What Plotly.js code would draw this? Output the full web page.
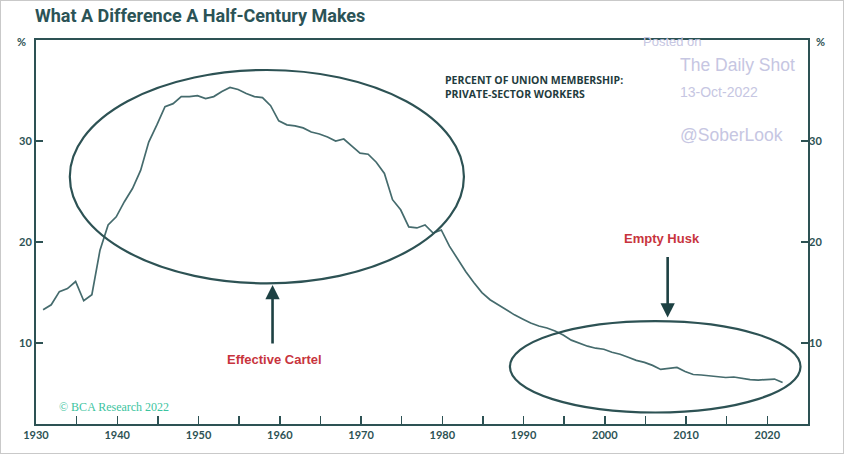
<!DOCTYPE html>
<html>
<head>
<meta charset="utf-8">
<script src="https://cdn.plot.ly/plotly-3.0.1.min.js"></script>
<style>
  html, body { margin: 0; padding: 0; background: #fff; }
  #wrap { position: relative; width: 846px; height: 457px; }
  #chart { width: 846px; height: 457px; }
  #frame { position: absolute; left: 0; top: 0; width: 842px; height: 452px; border: 1px solid #c9c9c9; pointer-events: none; }
</style>
</head>
<body>
<div id="wrap"><div id="chart"></div><div id="frame"></div></div>
<script>
// Private-sector union membership, % (annual)
const years = [
  1930,1931,1932,1933,1934,1935,1936,1937,1938,1939,
  1940,1941,1942,1943,1944,1945,1946,1947,1948,1949,
  1950,1951,1952,1953,1954,1955,1956,1957,1958,1959,
  1960,1961,1962,1963,1964,1965,1966,1967,1968,1969,
  1970,1971,1972,1973,1974,1975,1976,1977,1978,1979,
  1980,1981,1982,1983,1984,1985,1986,1987,1988,1989,
  1990,1991,1992,1993,1994,1995,1996,1997,1998,1999,
  2000,2001,2002,2003,2004,2005,2006,2007,2008,2009,
  2010,2011,2012,2013,2014,2015,2016,2017,2018,2019,
  2020,2021
];
const unionPct = [
  13.3,13.8,15.1,15.4,16.1,14.2,14.8,19.2,21.7,22.5,
  24.0,25.3,27.1,29.9,31.6,33.4,33.7,34.4,34.4,34.5,
  34.2,34.4,34.9,35.3,35.1,34.7,34.4,34.3,33.5,32.0,
  31.6,31.5,31.3,30.9,30.7,30.4,30.0,30.2,29.5,28.8,
  28.7,27.9,26.8,24.2,23.2,21.5,21.4,21.7,20.9,21.2,
  19.6,18.3,17.1,16.0,15.0,14.3,13.8,13.3,12.8,12.4,
  12.0,11.7,11.5,11.2,10.8,10.3,10.0,9.7,9.5,9.4,
  9.1,8.9,8.6,8.3,8.1,7.8,7.4,7.5,7.6,7.2,
  6.9,6.85,6.75,6.65,6.6,6.65,6.5,6.4,6.35,6.4,
  6.45,6.1
];
const xTickYears = [1930,1935,1940,1945,1950,1955,1960,1965,1970,1975,1980,1985,1990,1995,2000,2005,2010,2015,2020];
const yTicks = [10, 20, 30];

// annual observations are plotted at the end of each year
const xDates = years.map(y => y + '-11-16');
const tickDates = xTickYears.map(y => y + '-01-01');
const tickText = xTickYears.map(y => (y % 10 === 0 ? String(y) : ''));

const axisCol = '#2d5254';
const lineCol = '#456b6d';
const redCol = '#c8343d';
const wmCol = '#c6c6e2';
const yRange = [2, 40];
const xRange = ['1930-01-01', '2025-01-01'];

const tickFont = {family: 'Lato, "Open Sans", sans-serif', size: 11, color: axisCol, weight: 'bold'};

const traces = [
  {x: xDates, y: unionPct, type: 'scatter', mode: 'lines',
   line: {color: lineCol, width: 1.7}, hoverinfo: 'x+y', showlegend: false},
  {x: xDates, y: unionPct, type: 'scatter', mode: 'lines', yaxis: 'y2',
   line: {color: 'rgba(0,0,0,0)', width: 0}, hoverinfo: 'skip', showlegend: false}
];

function note(x, y, text, font, xa, ya, extra) {
  return Object.assign({xref: 'paper', yref: 'paper', x: x, y: y, text: text, showarrow: false,
    xanchor: xa || 'center', yanchor: ya || 'middle', font: font}, extra || {});
}

const layout = {
  width: 846, height: 457,
  margin: {l: 36, r: 38, t: 40, b: 33},
  paper_bgcolor: '#ffffff', plot_bgcolor: '#ffffff',
  title: {text: 'What A Difference A Half-Century Makes', xref: 'container', yref: 'container',
          x: 35/846, xanchor: 'left', y: 1 - 16/457, yanchor: 'middle',
          font: {family: '"Liberation Sans Narrow", "Roboto", sans-serif', size: 18, color: '#2b5356', weight: 'bold'}},
  xaxis: {type: 'date', range: xRange, showgrid: false, zeroline: false,
          showline: true, linecolor: axisCol, linewidth: 2, mirror: true,
          ticks: 'inside', ticklen: 8, tickwidth: 1.5, tickcolor: axisCol,
          tickmode: 'array', tickvals: tickDates, ticktext: tickText, tickfont: tickFont},
  yaxis: {range: yRange, showgrid: false, zeroline: false,
          showline: true, linecolor: axisCol, linewidth: 2, mirror: true,
          ticks: 'inside', ticklen: 7, tickwidth: 1.5, tickcolor: axisCol,
          tickmode: 'array', tickvals: yTicks, ticktext: yTicks.map(String), tickfont: tickFont},
  yaxis2: {range: yRange, overlaying: 'y', side: 'right', showgrid: false, zeroline: false,
           showline: false, ticks: 'inside', ticklen: 7, tickwidth: 1.5, tickcolor: axisCol,
           tickmode: 'array', tickvals: yTicks, ticktext: yTicks.map(String), tickfont: tickFont},
  shapes: [
    {type: 'circle', xref: 'paper', yref: 'paper', x0: 0.0438, x1: 0.5543, y0: 0.3664, y1: 0.9219,
     line: {color: axisCol, width: 2.2}},
    {type: 'circle', xref: 'paper', yref: 'paper', x0: 0.6139, x1: 0.9903, y0: 0.030, y1: 0.268,
     line: {color: axisCol, width: 2.2}}
  ],
  annotations: [
    note(-0.0184, 0.9948, '%', {family: 'Lato, sans-serif', size: 11, color: axisCol, weight: 'bold'}),
    note(1.0166, 0.9948, '%', {family: 'Lato, sans-serif', size: 11, color: axisCol, weight: 'bold'}),
    note(0.527, 0.8776, 'PERCENT OF UNION MEMBERSHIP:<br>PRIVATE-SECTOR WORKERS',
         {family: '"Open Sans", sans-serif', size: 10.5, color: '#1f3c3e', weight: 'bold'}, 'left', 'middle', {align: 'left'}),
    // arrows
    {xref: 'paper', yref: 'paper', x: 0.3064, y: 0.362, ax: 0, ay: 60, text: '', showarrow: true,
     arrowhead: 2, arrowsize: 1.1, arrowwidth: 2.6, arrowcolor: '#1d4143'},
    {xref: 'paper', yref: 'paper', x: 0.8182, y: 0.2773, ax: 0, ay: -62, text: '', showarrow: true,
     arrowhead: 2, arrowsize: 1.1, arrowwidth: 2.6, arrowcolor: '#1d4143'},
    note(0.3088, 0.1667, 'Effective Cartel', {family: '"Liberation Sans", Arial, sans-serif', size: 13, color: redCol, weight: 'bold'}),
    note(0.8109, 0.4818, 'Empty Husk', {family: '"Liberation Sans", Arial, sans-serif', size: 13, color: redCol, weight: 'bold'}),
    // source
    note(0.027, 0.0443, '© BCA Research 2022', {family: '"Liberation Serif", "DejaVu Serif", serif', size: 12, color: '#3cc4a0'}, 'left', 'middle'),
    // watermark
    note(0.7836, 0.9948, 'Posted on', {family: 'Arial, "Liberation Sans", sans-serif', size: 13, color: wmCol}, 'left', 'middle'),
    note(0.8315, 0.935, 'The Daily Shot', {family: 'Arial, "Liberation Sans", sans-serif', size: 17.5, color: wmCol}, 'left', 'middle'),
    note(0.8315, 0.8646, '13-Oct-2022', {family: 'Arial, "Liberation Sans", sans-serif', size: 14, color: wmCol}, 'left', 'middle'),
    note(0.8315, 0.7526, '@SoberLook', {family: 'Arial, "Liberation Sans", sans-serif', size: 17.5, color: wmCol}, 'left', 'middle')
  ]
};

Plotly.newPlot('chart', traces, layout, {displayModeBar: false, staticPlot: true});
</script>
</body>
</html>
